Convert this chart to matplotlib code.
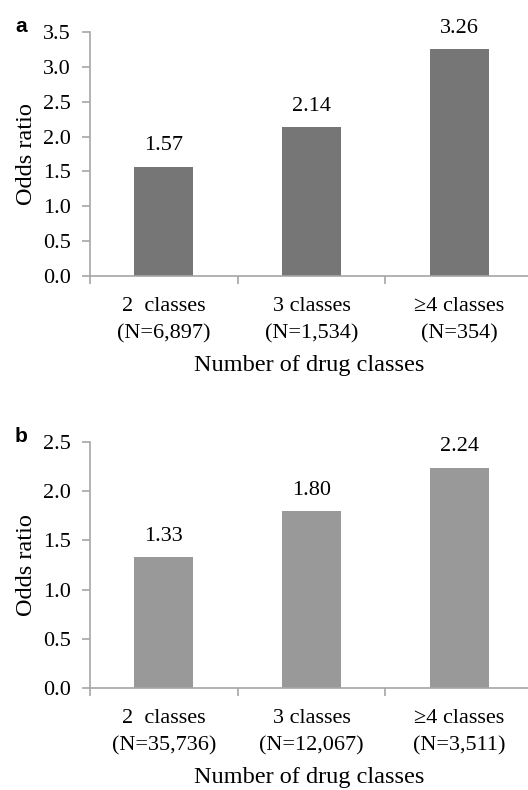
import matplotlib.pyplot as plt
import numpy as np

plt.rcParams['font.family'] = ['Liberation Serif', 'DejaVu Serif']

cats_a = ["2  classes\n(N=6,897)", "3 classes\n(N=1,534)", "\u22654 classes\n(N=354)"]
vals_a = [1.57, 2.14, 3.26]
cats_b = ["2  classes\n(N=35,736)", "3 classes\n(N=12,067)", "\u22654 classes\n(N=3,511)"]
vals_b = [1.33, 1.80, 2.24]

W, H = 528, 790
fig = plt.figure(figsize=(W / 100, H / 100), dpi=100)

axcol = '#a6a6a6'
fs = 16


def panel(rect, cats, vals, color, ymax, letter):
    ax = fig.add_axes(rect)
    x = np.arange(len(vals))
    ax.bar(x, vals, width=0.4, color=color, zorder=2)
    for xi, v in zip(x, vals):
        ax.annotate(f"{v:.2f}", (xi, v), xytext=(0, 8), textcoords='offset points',
                    ha='center', va='bottom', fontsize=fs)
    ax.set_ylim(0, ymax)
    ax.set_yticks(np.arange(0, ymax + 0.01, 0.5))
    ax.set_yticklabels([f"{t:.1f}" for t in np.arange(0, ymax + 0.01, 0.5)])
    ax.set_xlim(-0.5, 2.5 - 5 / 147.5)
    ax.set_xticks([-0.5, 0.5, 1.5])
    ax.set_xticklabels([])
    ax.set_xticks(x, minor=True)
    ax.set_xticklabels(cats, minor=True, fontsize=fs, linespacing=1.6)
    ax.tick_params(axis='x', which='minor', length=0, pad=15)
    ax.tick_params(axis='x', which='major', length=6, color=axcol, width=1.2)
    ax.tick_params(axis='y', length=6, color=axcol, width=1.2, labelsize=fs, pad=8)
    for s in ['top', 'right']:
        ax.spines[s].set_visible(False)
    for s in ['left', 'bottom']:
        ax.spines[s].set_color(axcol)
        ax.spines[s].set_linewidth(1.2)
    ax.set_ylabel("Odds ratio", fontsize=17.5, labelpad=4)
    ax.set_xlabel("Number of drug classes", fontsize=17.5, labelpad=8)
    fig.text(rect[0] - 75 / W, rect[1] + rect[3] + 6 / H, letter, fontsize=15,
             fontweight='bold', family='Liberation Sans', ha='left', va='center')
    return ax


panel([90 / W, 1 - 276 / H, 1 - 90 / W, 244 / H], cats_a, vals_a, '#767676', 3.5, 'a')
panel([90 / W, 1 - 688 / H, 1 - 90 / W, 246 / H], cats_b, vals_b, '#999999', 2.5, 'b')

fig.savefig('out.png', dpi=100)
